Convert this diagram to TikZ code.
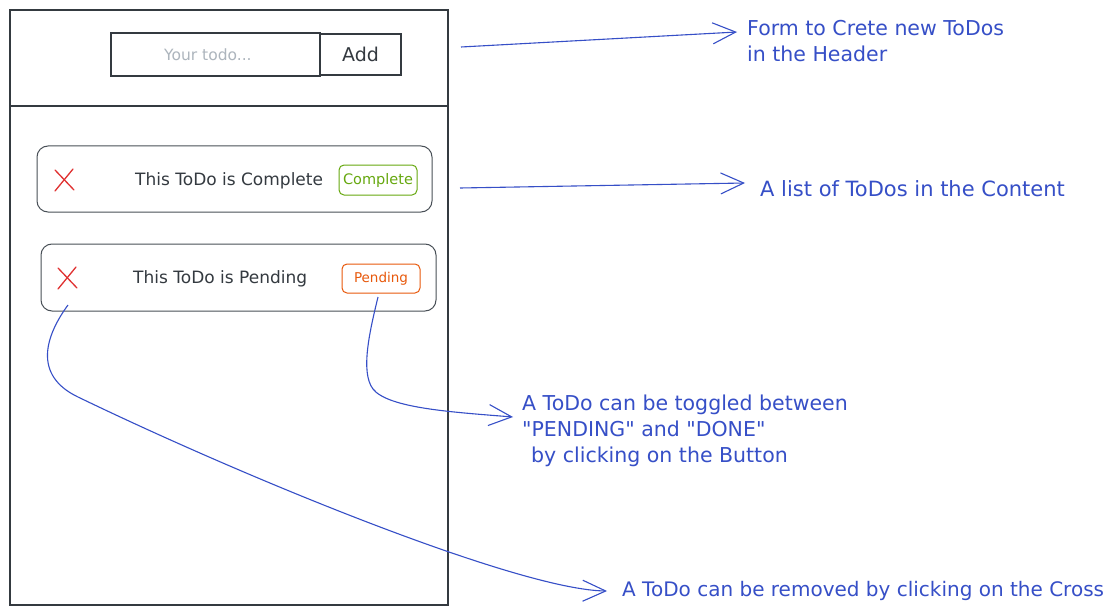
\documentclass[tikz,border=0pt]{standalone}
\usepackage{fontspec}
\setmainfont{DejaVu Sans}
\usetikzlibrary{arrows.meta}

\definecolor{ink}{HTML}{343A40}
\definecolor{softink}{HTML}{495057}
\definecolor{hint}{HTML}{ADB5BD}
\definecolor{note}{HTML}{364FC7}
\definecolor{okgreen}{HTML}{66A80F}
\definecolor{waitorange}{HTML}{E8590C}
\definecolor{crossred}{HTML}{E03131}

\tikzset{
  panel/.style={draw=ink, line width=1.2pt, inner sep=0pt},
  field/.style={draw=ink, line width=1.1pt, inner sep=0pt},
  row/.style={draw=softink, line width=1pt, rounded corners=11pt, inner sep=0pt,
    minimum width=395pt, minimum height=66pt},
  badge/.style={draw=#1, text=#1, line width=1pt, rounded corners=5pt, inner sep=0pt,
    minimum width=78pt, minimum height=30pt, font=\fontsize{14.5}{16}\selectfont},
  rowtext/.style={text=ink, inner sep=0pt, anchor=west, font=\fontsize{17}{19}\selectfont},
  notetext/.style={text=note, inner sep=0pt, anchor=west, align=left,
    font=\fontsize{20.5}{26}\selectfont},
  pointer/.style={draw=note, line width=1.1pt,
    -{Straight Barb[length=23pt,width=21pt,line width=1.1pt]}},
  crossline/.style={draw=crossred, line width=1.3pt, line cap=round},
}

\begin{document}
\begin{tikzpicture}[x=1pt,y=-1pt]
\useasboundingbox (0,0) rectangle (1116,615);
\fill[white] (0,0) rectangle (1116,615);

% app frame with header divider
\node[panel, minimum width=438pt, minimum height=595pt] (app) at (229,307.5) {};
\coordinate (divL) at (10,106);
\coordinate (divR) at (448,106);
\draw[ink, line width=1.2pt] (divL) -- (divR);

% new-todo form
\node[field, minimum width=209pt, minimum height=43pt] (input) at (215.5,54.5) {};
\node[text=hint, inner sep=0pt, anchor=west, font=\fontsize{15.5}{17}\selectfont]
  (placeholder) at (164,55) {Your todo...};
\node[field, minimum width=81pt, minimum height=41pt, text=ink,
  font=\fontsize{19}{21}\selectfont] (add) at (360.5,54.5) {Add};

% todo rows
\node[row] (row1) at (234.5,179) {};
\node[row, minimum height=67pt] (row2) at (238.5,277.5) {};

\node[rowtext] (text1) at (135,181) {This ToDo is Complete};
\node[rowtext] (text2) at (133,279) {This ToDo is Pending};

\node[badge=okgreen] (done) at (378,180) {Complete};
\node[badge=waitorange, minimum height=29pt, font=\fontsize{13.5}{15}\selectfont]
  (pending) at (381,278.5) {Pending};

% remove crosses
\coordinate (cross1) at (64,180);
\coordinate (cross2) at (67,278);
\foreach \c in {cross1,cross2}{
  \draw[crossline, shift={(\c)}] (-9,-10) -- (10,10);
  \draw[crossline, shift={(\c)}] (9,-11) -- (-9,11);
}

% notes
\node[notetext] (noteForm) at (747,41.5) {Form to Crete new ToDos\\in the Header};
\node[notetext, font=\fontsize{21}{26}\selectfont] (noteList) at (760,189)
  {A list of ToDos in the Content};
\node[notetext] (noteToggle) at (522,431)
  {A ToDo can be toggled between\\\textquotedbl PENDING\textquotedbl{} and
   \textquotedbl DONE\textquotedbl\\\hspace*{9pt}by clicking on the Button};
\node[notetext, font=\fontsize{20}{26}\selectfont] (noteRemove) at (622,591)
  {A ToDo can be removed by clicking on the Cross};

% pointers
\coordinate (formFrom) at (461,47);
\coordinate (formTo) at (737,32);
\draw[pointer] (formFrom) -- (formTo);

\coordinate (listFrom) at (460,188);
\coordinate (listTo) at (745,183);
\draw[pointer] (listFrom) -- (listTo);

\coordinate (toggleFrom) at (378,297);
\coordinate (toggleTo) at (513,417);
\draw[pointer] (toggleFrom) .. controls (370,330) and (360,372) .. (373,389)
  .. controls (388,408) and (450,412) .. (toggleTo);

\coordinate (removeFrom) at (68,305);
\coordinate (removeTo) at (607,591);
\draw[pointer] (removeFrom) .. controls (46,335) and (32,375) .. (78,397)
  .. controls (250,480) and (520,590) .. (removeTo);
\end{tikzpicture}
\end{document}
